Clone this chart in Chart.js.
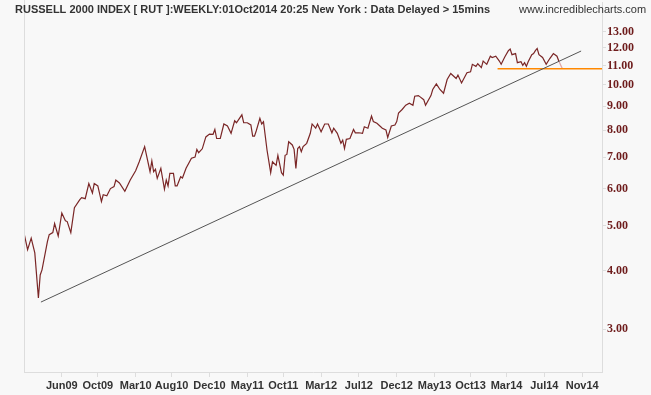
<!DOCTYPE html>
<html>
<head>
<meta charset="utf-8">
<script src="https://cdn.jsdelivr.net/npm/chart.js@4.4.1/dist/chart.umd.min.js"></script>
<style>
  html, body { margin: 0; padding: 0; background: #f8f8f8; }
  #wrap { width: 651px; height: 395px; }
</style>
</head>
<body>
<div id="wrap"><canvas id="rutChart" width="651" height="395"></canvas></div>
<script>
    // Weekly closes, RUT / 100 (week 0 = first bar, early Jan 2009)
    const weekNo = [
        0, 2, 4, 6, 8, 9, 10, 13, 14, 16,
        17, 19, 21, 23, 24, 26, 28, 31, 32, 34,
        36, 38, 39, 41, 43, 44, 46, 48, 50, 51,
        53, 56, 59, 62, 64, 67, 70, 71, 72, 73,
        74, 76, 78, 79, 80, 81, 83, 84, 85, 87,
        88, 90, 93, 95, 96, 97, 99, 101, 103, 105,
        106, 107, 109, 111, 113, 115, 117, 118, 121, 122,
        124, 126, 127, 128, 129, 131, 132, 133, 135, 137,
        138, 140, 141, 143, 144, 145, 146, 147, 149, 150,
        151, 152, 153, 154, 155, 157, 159, 160, 162, 163,
        165, 167, 169, 171, 172, 174, 176, 177, 178, 179,
        181, 183, 184, 186, 188, 189, 191, 193, 194, 196,
        199, 201, 202, 204, 206, 207, 208, 210, 212, 214,
        216, 217, 219, 220, 222, 223, 226, 227, 229, 231,
        233, 235, 237, 240, 241, 243, 246, 248, 249, 251,
        252, 254, 255, 257, 259, 260, 262, 264, 265, 267,
        269, 270, 271, 273, 274, 276, 277, 278, 279, 280,
        282, 283, 284, 285, 286, 288, 290, 292, 294, 296,
        297
    ];
    const closeVal = [
        4.82, 4.44, 4.70, 4.37, 3.50, 3.92, 4.02, 4.62, 4.78, 4.83,
        5.05, 4.75, 5.32, 5.12, 5.10, 4.83, 5.46, 5.68, 5.74, 5.71,
        6.15, 5.87, 6.15, 6.08, 5.63, 5.82, 5.79, 6.00, 6.06, 6.26,
        6.17, 5.92, 6.26, 6.55, 6.85, 7.38, 6.52, 6.88, 6.52, 6.60,
        6.31, 6.63, 5.98, 6.26, 6.08, 6.47, 6.47, 6.08, 6.08, 6.36,
        6.32, 6.63, 6.97, 7.01, 7.28, 7.16, 7.30, 7.74, 7.85, 7.84,
        8.03, 7.68, 7.68, 8.25, 8.17, 7.88, 8.38, 8.30, 8.63, 8.30,
        8.30, 8.21, 7.77, 7.77, 7.98, 8.48, 8.25, 8.34, 7.24, 6.49,
        6.85, 6.73, 7.07, 6.49, 6.41, 7.07, 7.10, 7.56, 7.44, 7.28,
        6.63, 7.31, 7.38, 7.20, 7.38, 7.50, 7.88, 8.25, 8.08, 8.25,
        7.94, 8.25, 8.25, 7.90, 8.08, 7.88, 7.50, 7.62, 7.31, 7.65,
        7.68, 8.03, 7.90, 7.90, 7.88, 8.14, 8.08, 8.58, 8.35, 8.28,
        8.08, 8.01, 7.72, 8.17, 8.21, 8.35, 8.71, 8.86, 9.05, 9.14,
        9.05, 9.46, 9.49, 9.43, 9.30, 9.05, 9.49, 9.78, 10.05, 9.78,
        9.60, 10.27, 10.58, 10.32, 10.50, 10.10, 10.62, 10.67, 11.07, 10.96,
        11.10, 10.89, 11.25, 11.07, 11.52, 11.45, 11.52, 11.25, 11.07, 11.48,
        11.84, 11.93, 11.61, 11.67, 11.16, 11.21, 11.02, 11.16, 10.96, 11.21,
        11.61, 11.67, 11.84, 11.97, 11.61, 11.45, 11.07, 11.39, 11.67, 11.52,
        11.25
    ];
    // current (unfinished) week
    const liveWeeks = [297, 299];
    const liveVals = [11.25, 10.83];

    // trend line from the 2009 low, and the support level
    const trendWeeks = [9.4, 309.4];
    const trendVals = [3.43, 11.82];
    const supportWeeks = [263, 321];
    const supportVals = [10.83, 10.83];

    const yTicks = [3, 4, 5, 6, 7, 8, 9, 10, 11, 12, 13];
    const xTickWeeks = [21, 41, 62, 82, 103, 124, 144, 165, 186, 207, 228, 248, 268, 289, 310];
    const xTickLabels = ['Jun09', 'Oct09', 'Mar10', 'Aug10', 'Dec10', 'May11', 'Oct11', 'Mar12',
        'Jul12', 'Dec12', 'May13', 'Oct13', 'Mar14', 'Jul14', 'Nov14'];

    const pairs = (xs, ys) => xs.map((x, i) => ({ x: x, y: ys[i] }));

    // фон, рамка зліва і підписи зверху
    const decor = {
        id: 'decor',
        beforeDraw(chart) {
            const c = chart.ctx;
            c.save();
            c.fillStyle = '#f8f8f8';
            c.fillRect(0, 0, chart.width, chart.height);
            c.restore();
        },
        afterDraw(chart) {
            const c = chart.ctx;
            const a = chart.chartArea;
            c.save();
            c.strokeStyle = '#dddddd';
            c.lineWidth = 1;
            c.beginPath();
            c.moveTo(a.left + 0.5, 0);
            c.lineTo(a.left + 0.5, a.bottom);
            c.stroke();
            c.fillStyle = '#333333';
            c.textBaseline = 'middle';
            c.font = 'bold 11px "Liberation Sans", Arial, sans-serif';
            c.fillText('RUSSELL 2000 INDEX [ RUT ]:WEEKLY:01Oct2014 20:25 New York : Data Delayed > 15mins', 15, 10);
            c.font = '11px "Liberation Sans", Arial, sans-serif';
            c.fillText('www.incrediblecharts.com', 519, 10);
            c.restore();
        }
    };

    const noEdgePad = (scale) => {
        scale.paddingTop = 0;
        scale.paddingBottom = 0;
        scale.paddingLeft = 0;
        scale.paddingRight = 0;
    };

    const ctx = document.getElementById('rutChart').getContext('2d');
    new Chart(ctx, {
        type: 'line',
        data: {
            datasets: [
                {
                    data: pairs(trendWeeks, trendVals),
                    borderColor: '#555555',
                    borderWidth: 1,
                    pointRadius: 0
                },
                {
                    data: pairs(supportWeeks, supportVals),
                    borderColor: '#ff8800',
                    borderWidth: 1.5,
                    pointRadius: 0
                },
                {
                    data: pairs(liveWeeks, liveVals),
                    borderColor: '#dfa8a8',
                    borderWidth: 1.3,
                    pointRadius: 0
                },
                {
                    data: pairs(weekNo, closeVal),
                    borderColor: '#7a2626',
                    borderWidth: 1.2,
                    pointRadius: 0
                }
            ]
        },
        options: {
            responsive: false,
            animation: false,
            devicePixelRatio: 1,
            layout: { padding: { left: 24, top: 2, right: 0, bottom: 0 } },
            plugins: {
                legend: { display: false },
                tooltip: { enabled: false },
                title: { display: false }
            },
            scales: {
                x: {
                    type: 'linear',
                    min: 0,
                    max: 321,
                    position: 'bottom',
                    afterFit(scale) { scale.height = 23; noEdgePad(scale); },
                    afterBuildTicks(scale) {
                        scale.ticks = xTickWeeks.map(v => ({ value: v }));
                    },
                    grid: {
                        drawOnChartArea: false,
                        drawTicks: true,
                        tickLength: 5,
                        color: '#dddddd'
                    },
                    border: { display: true, color: '#dddddd' },
                    ticks: {
                        autoSkip: false,
                        maxRotation: 0,
                        padding: 2,
                        color: '#333333',
                        font: { family: '"Liberation Sans", Arial, sans-serif', size: 11, weight: 'bold' },
                        callback: (value, index) => xTickLabels[index]
                    }
                },
                y: {
                    type: 'logarithmic',
                    position: 'right',
                    min: 2.43,
                    max: 15.05,
                    afterFit(scale) { scale.width = 49; noEdgePad(scale); },
                    afterBuildTicks(scale) {
                        scale.ticks = yTicks.map(v => ({ value: v }));
                    },
                    grid: {
                        drawOnChartArea: false,
                        drawTicks: true,
                        tickLength: 4,
                        color: '#dddddd'
                    },
                    border: { display: true, color: '#dddddd' },
                    ticks: {
                        padding: 1,
                        color: '#6e1c1c',
                        font: { family: '"Liberation Serif", "Times New Roman", serif', size: 12, weight: 'bold' },
                        callback: (value) => Number(value).toFixed(2)
                    }
                }
            }
        },
        plugins: [decor]
    });
</script>
</body>
</html>
